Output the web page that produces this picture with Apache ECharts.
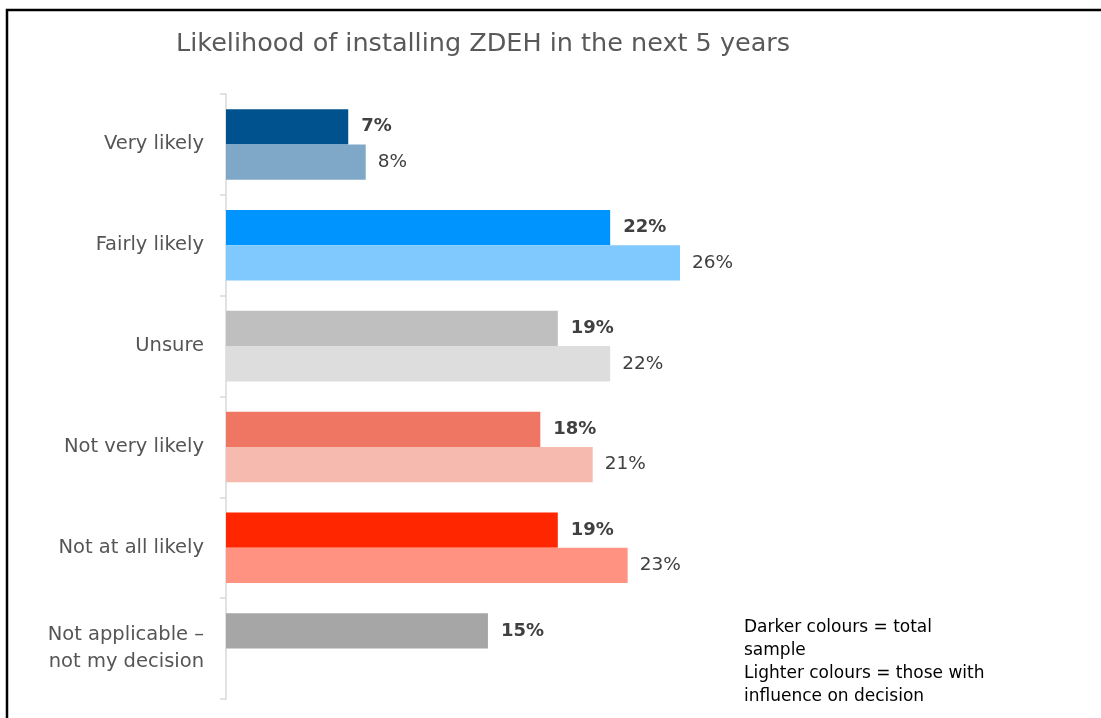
<!DOCTYPE html>
<html><head><meta charset="utf-8">
<script src="https://cdn.jsdelivr.net/npm/echarts@6/dist/echarts.min.js"></script>
<style>html,body{margin:0;padding:0;background:#fff}#c{width:1101px;height:718px}</style>
</head><body><div id="c"></div>
<script>
const categories = ['Very likely','Fairly likely','Unsure','Not very likely','Not at all likely','Not applicable –\nnot my decision'];
const totalSample = [7,22,19,18,19,15];
const influence = [8,26,22,21,23,null];
const darkColors = ['#00528F','#0094FF','#BFBFBF','#EE7662','#FF2600','#A6A6A6'];
const lightColors = ['#7FA8C8','#80C9FF','#DDDDDD','#F6BAAF','#FF9280','#D2D2D2'];
const titleText = 'Likelihood of installing ZDEH in the next 5 years';
const noteText = 'Darker colours = total\nsample\nLighter colours = those with\ninfluence on decision';
const FONT = '"DejaVu Sans", sans-serif';

const chart = echarts.init(document.getElementById('c'));
chart.setOption({
  animation:false,
  title:{text:titleText,left:171,top:26,textStyle:{fontFamily:FONT,fontSize:25.5,fontWeight:'normal',color:'#595959'}},
  graphic:[
    {type:'rect',shape:{x:7,y:10,width:1200,height:800},style:{fill:null,stroke:'#000',lineWidth:2.5}},
    {type:'text',left:744,top:616,style:{text:noteText,fontFamily:FONT,fontSize:17,lineHeight:23,fill:'#000'}}
  ],
  grid:{left:226,top:94,bottom:19,width:698.5,containLabel:false},
  xAxis:{type:'value',min:0,max:40,show:false},
  yAxis:{type:'category',data:categories,inverse:true,
    axisLine:{lineStyle:{color:'#D9D9D9',width:1.5}},
    axisTick:{show:true,length:6,lineStyle:{color:'#D9D9D9',width:1.5}},
    axisLabel:{margin:22,fontFamily:FONT,fontSize:19.5,fontWeight:'normal',color:'#555555',align:'right',lineHeight:27}},
  series:[
    {type:'bar',name:'Total sample',data:totalSample.map((v,i)=>({value:v,itemStyle:{color:darkColors[i]}})),
     barCategoryGap:'30%',barGap:'0%',
     label:{show:true,position:'right',distance:13,formatter:'{c}%',fontFamily:FONT,fontSize:18,fontWeight:'bold',color:'#404040'}},
    {type:'bar',name:'Influence on decision',data:influence.map((v,i)=>({value:v,itemStyle:{color:lightColors[i]}})),
     barGap:'0%',
     label:{show:true,position:'right',distance:12,formatter:p=>p.value==null?'':p.value+'%',fontFamily:FONT,fontSize:18.5,color:'#404040'}}
  ]
});
</script></body></html>
